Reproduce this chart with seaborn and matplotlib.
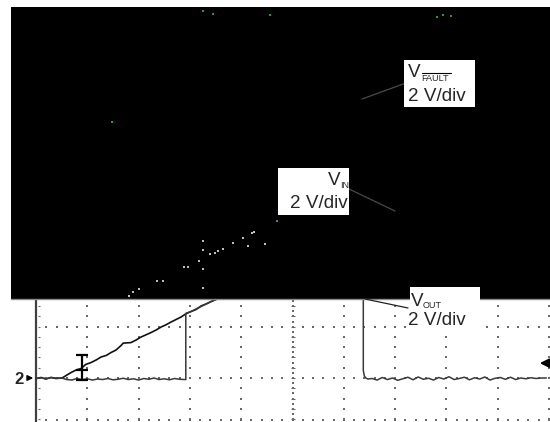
import numpy as np
import matplotlib
matplotlib.use("Agg")
import matplotlib.pyplot as plt
import seaborn as sns
from matplotlib.patches import Rectangle

# time in screen divisions, channel voltage in volts (2 V/div), ground marker = 0 V
t_vin = [0.00, 0.10, 0.19, 0.29, 0.39, 0.51, 0.59, 0.68, 0.78, 0.88, 0.97, 1.07,
         1.17, 1.27, 1.37, 1.46, 1.56, 1.66, 1.70, 1.85, 1.95, 2.05, 2.14, 2.24,
         2.34, 2.44, 2.53, 2.63, 2.73, 2.83, 2.92, 3.02, 3.12, 3.22, 3.31, 3.41,
         3.51, 3.61, 4.50, 6.00, 10.00]
v_vin = [-0.02, 0.02, -0.04, 0.02, -0.02, 0.00, 0.10, 0.21, 0.31, 0.37, 0.53, 0.60,
         0.70, 0.82, 0.88, 0.99, 1.09, 1.27, 1.36, 1.38, 1.48, 1.60, 1.68, 1.77,
         1.87, 1.99, 2.07, 2.18, 2.28, 2.38, 2.50, 2.59, 2.67, 2.81, 2.88, 2.98,
         3.06, 3.16, 4.00, 5.60, 9.00]

t_vout = [0.00, 0.10, 0.20, 0.30, 0.40, 0.50, 0.60, 0.70, 0.80, 0.90, 1.00, 1.10,
          1.20, 1.30, 1.40, 1.50, 1.60, 1.70, 1.80, 1.90, 2.00, 2.10, 2.20, 2.30,
          2.40, 2.50, 2.60, 2.70, 2.80, 2.90, 2.92, 2.92, 3.02, 3.31, 3.61, 4.50,
          5.00, 6.38, 6.38, 6.40, 6.43, 6.47,
          6.55, 6.65, 6.75, 6.85, 6.95, 7.05, 7.15, 7.25, 7.35, 7.45, 7.55, 7.65,
          7.75, 7.85, 7.95, 8.05, 8.15, 8.25, 8.35, 8.45, 8.55, 8.65, 8.75, 8.85,
          8.95, 9.05, 9.15, 9.25, 9.35, 9.45, 9.55, 9.65, 9.75, 9.85, 9.95]
v_vout = [-0.02, 0.01, -0.03, 0.02, -0.01, 0.00, -0.06, -0.08, -0.02, -0.07, -0.03, -0.08,
          -0.04, -0.06, -0.02, -0.07, -0.05, -0.01, -0.06, -0.03, -0.08, -0.02, -0.05, 0.00,
          -0.06, -0.03, -0.07, -0.02, -0.05, -0.06, -0.06, 2.52, 2.59, 2.88, 3.16, 4.00,
          4.60, 4.60, 0.30, 0.08, 0.00, -0.04,
          -0.02, -0.08, 0.02, -0.06, 0.00, -0.09, -0.03, 0.03, -0.07, 0.04, -0.05, -0.01,
          -0.08, 0.02, -0.04, 0.05, -0.06, -0.02, 0.03, -0.07, 0.01, -0.04, 0.04, -0.08,
          -0.01, 0.02, -0.05, 0.03, -0.06, 0.00, -0.03, 0.01, -0.02, 0.00, 0.00]

# faint trace remnants showing through the masked area
speck_t = [1.81, 1.89, 2.01, 2.36, 2.48, 2.88, 2.96, 3.18, 3.26, 3.26, 3.26, 3.26,
           3.39, 3.49, 3.55, 3.65, 3.84, 4.04, 4.13, 4.21, 4.25, 4.46]
speck_v = [3.20, 3.35, 3.47, 3.78, 3.78, 4.33, 4.33, 4.56, 5.34, 4.99, 4.25, 3.51,
           4.83, 4.87, 4.95, 5.03, 5.26, 5.46, 5.15, 5.65, 5.69, 5.22]
green_t = [3.26, 3.45, 4.56, 7.82, 7.93, 8.09, 1.48]
green_v = [14.31, 14.19, 14.15, 14.07, 14.15, 14.11, 9.98]

cursor_t = 0.89
cursor_v = [0.90, 0.31, -0.08]
trigger_v = 0.58

W, H = 550, 422


def px(x, y):
    # pixel position -> axes fraction
    return x / W, 1 - y / H


sns.set_theme(style="white")
plt.rcParams["font.family"] = ["Liberation Sans", "DejaVu Sans"]

fig = plt.figure(figsize=(5.5, 4.22), dpi=100)
ax = fig.add_axes([0, 0, 1, 1])
ax.set_xlim(-36 / 51.3, (550 - 36) / 51.3)
ax.set_ylim((378 - 422) / 25.65, 378 / 25.65)
ax.set_axis_off()

# graticule
minor_t = np.arange(0, 10.01, 0.2)
minor_v = np.arange(-2, 14.1, 0.4)
dot = dict(s=1.0, marker="s", color="#6a6a6a", linewidths=0, zorder=1)
for tv in range(1, 11):
    ax.scatter(np.full(minor_v.size, tv), minor_v, **dot)
for vv in range(-2, 15, 2):
    ax.scatter(minor_t, np.full(minor_t.size, vv), **dot)
ax.scatter(minor_t, np.full(minor_t.size, -1.64), **dot)
ax.scatter(np.full(minor_v.size, 5), minor_v, s=5, marker="_", color="#6a6a6a", linewidths=0.8, zorder=1)
ax.scatter(np.full(minor_v.size * 2, 5), np.sort(np.r_[minor_v, minor_v + 0.2]), **dot)
ax.scatter(np.full(minor_v.size, 0.05), minor_v, s=2, marker="_", color="#6a6a6a", linewidths=0.8, zorder=1)
ax.plot([0, 0], [-2, 3.2], color="#404040", lw=1.6, zorder=2)

# traces
sns.lineplot(x=t_vin, y=v_vin, sort=False, estimator=None, color="#111111", lw=1.2, ax=ax, zorder=3)
sns.lineplot(x=t_vout, y=v_vout, sort=False, estimator=None, color="#3a3a3a", lw=1.1, ax=ax, zorder=3)

# cursor
ax.plot([cursor_t, cursor_t], [cursor_v[0], cursor_v[-1]], color="black", lw=1.6, zorder=4)
ax.scatter([cursor_t] * 3, cursor_v, marker="_", s=70, color="black", linewidths=1.6, zorder=4)

# ground marker and trigger level
ax.text(*px(14.5, 384.5), "2", transform=ax.transAxes, fontsize=12, fontweight="bold",
        ha="left", va="baseline", zorder=4)
ax.annotate("", xy=(0, 0), xytext=(-11 / 51.3, 0),
            arrowprops=dict(arrowstyle="-|>", color="black", lw=1.1, mutation_scale=8), zorder=4)
ax.annotate("", xy=((537 - 36) / 51.3, trigger_v), xytext=((551 - 36) / 51.3, trigger_v),
            arrowprops=dict(arrowstyle="-|>", color="black", lw=1.5, mutation_scale=13), zorder=4)

# black mask over the upper screen
x0, y0 = px(11, 299)
ax.add_patch(Rectangle((x0, y0), 1 - x0, (299 - 7) / H, transform=ax.transAxes,
                       facecolor="black", edgecolor="none", zorder=5))
ax.plot([x0, 1], [y0, y0], transform=ax.transAxes, color="#8a8a8a", lw=1, zorder=5.2)
ax.scatter(speck_t, speck_v, s=2.5, marker="s", color="#bdbdbd", linewidths=0, zorder=5.5)
ax.scatter([4.70], [6.12], s=2.5, marker="s", color="#2a8c8c", linewidths=0, zorder=5.5)
ax.scatter(green_t, green_v, s=3, marker="s", color="#1fa21f", linewidths=0, zorder=5.5)

# leader lines
for (xa, ya), (xb, yb), c in [((362, 99), (406, 83), "#4a4a4a"),
                              ((349, 189), (395, 211), "#4a4a4a"),
                              ((365, 299), (408, 308), "#222222")]:
    ax.plot(*zip(px(xa, ya), px(xb, yb)), transform=ax.transAxes, color=c, lw=0.9, zorder=6)


def label_box(x0b, y0b, x1b, y1b):
    r = Rectangle(px(x0b, y1b), (x1b - x0b) / W, (y1b - y0b) / H, transform=ax.transAxes,
                  facecolor="white", edgecolor="none", zorder=7)
    ax.add_patch(r)
    return r


big, small = 13.6, 6.5

# V_FAULT
label_box(404, 60, 475, 107)
ax.text(*px(408, 76.7), "V", transform=ax.transAxes, fontsize=big, va="baseline", zorder=8)
ax.text(*px(421, 81), "FAULT", transform=ax.transAxes, fontsize=small, va="baseline", zorder=8)
ax.plot(*zip(px(421.5, 72.5), px(450.5, 72.5)), transform=ax.transAxes, color="black", lw=0.8, zorder=8)
ax.text(*px(408, 100.7), "2 V/div", transform=ax.transAxes, fontsize=big, va="baseline", zorder=8)

# V_IN (text clipped by its box)
box_in = label_box(278, 168, 349, 215)
for xy, s, fs in [((328, 185), "V", big), ((340, 188.5), "IN", small), ((290, 208.3), "2 V/div", big)]:
    t = ax.text(*px(*xy), s, transform=ax.transAxes, fontsize=fs, va="baseline", zorder=8)
    t.set_clip_path(box_in)

# V_OUT
label_box(410, 287, 480, 330)
ax.text(*px(411, 305.7), "V", transform=ax.transAxes, fontsize=big, va="baseline", zorder=8)
ax.text(*px(423, 307.5), "OUT", transform=ax.transAxes, fontsize=small, va="baseline", zorder=8)
ax.text(*px(408, 325), "2 V/div", transform=ax.transAxes, fontsize=big, va="baseline", zorder=8)

fig.savefig("out.png", dpi=100, facecolor="white")
